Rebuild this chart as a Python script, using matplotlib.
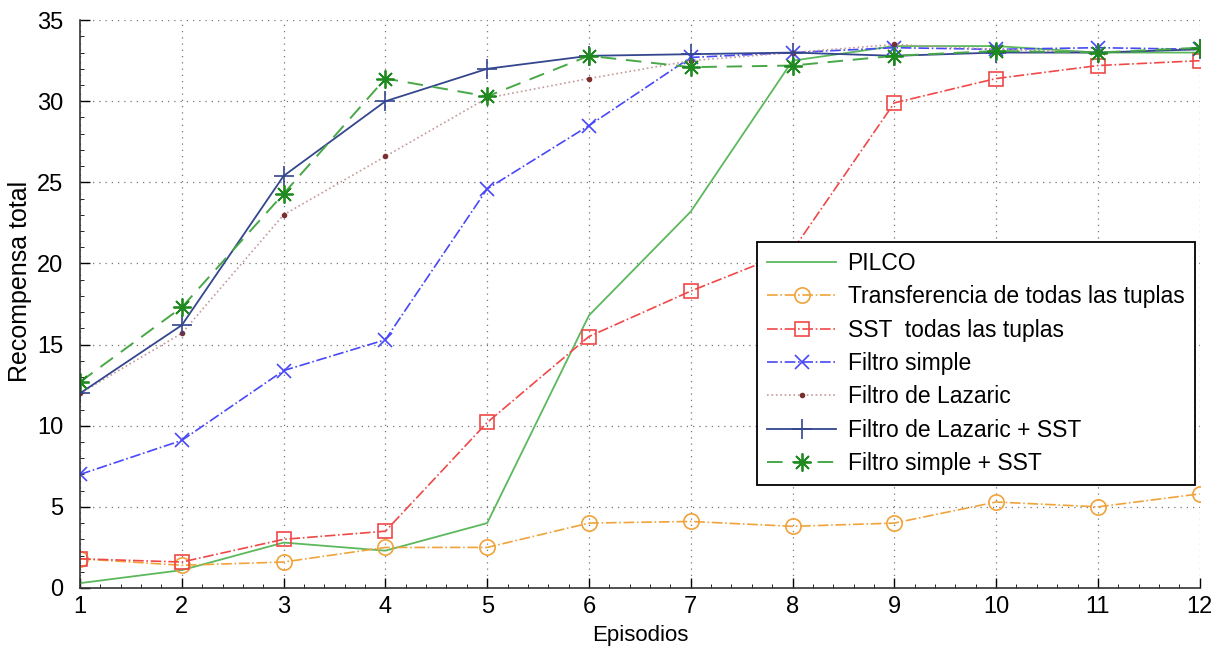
import numpy as np
import matplotlib.pyplot as plt
from matplotlib.ticker import MultipleLocator, AutoMinorLocator

plt.rcParams['font.family'] = ['Liberation Sans', 'DejaVu Sans']

# Datos
episodios = list(range(1, 13))
pilco = [0.3, 1.1, 2.8, 2.3, 4.0, 16.8, 23.2, 32.5, 33.4, 33.4, 33.0, 33.0]
transferencia = [1.8, 1.4, 1.6, 2.5, 2.5, 4.0, 4.1, 3.8, 4.0, 5.3, 5.0, 5.8]
sst_todas = [1.8, 1.6, 3.0, 3.5, 10.2, 15.5, 18.3, 20.8, 29.9, 31.4, 32.2, 32.5]
filtro_simple = [7.0, 9.1, 13.4, 15.3, 24.6, 28.5, 32.7, 33.0, 33.3, 33.2, 33.3, 33.2]
filtro_lazaric = [12.0, 15.7, 23.0, 26.6, 30.2, 31.4, 32.5, 33.0, 33.5, 33.2, 33.0, 33.2]
lazaric_sst = [12.0, 16.2, 25.4, 30.0, 32.0, 32.8, 32.9, 33.0, 32.8, 33.0, 33.0, 33.2]
simple_sst = [12.7, 17.3, 24.3, 31.4, 30.3, 32.8, 32.1, 32.2, 32.8, 33.1, 33.0, 33.3]

fig = plt.figure(figsize=(12.13, 6.49), dpi=100)
ax = fig.add_axes([0.066, 0.094, 0.923, 0.875])

ax.plot(episodios, pilco, '-', color='#5cb85c', lw=1.3, label='PILCO')
ax.plot(episodios, transferencia, '-.', color='#f0a33a', lw=1.2, marker='o', ms=11,
        mfc='none', mew=1.2, label='Transferencia de todas las tuplas')
ax.plot(episodios, sst_todas, '-.', color='#f04848', lw=1.2, marker='s', ms=10,
        mfc='none', mew=1.2, label='SST  todas las tuplas')
ax.plot(episodios, filtro_simple, '-.', color='#4848f8', lw=1.2, marker='x', ms=10,
        mew=1.2, label='Filtro simple')
ax.plot(episodios, filtro_lazaric, ':', color='#c49a9a', lw=1.2, marker='.', ms=6,
        mfc='#7a2f2f', mec='#7a2f2f', label='Filtro de Lazaric')
ax.plot(episodios, lazaric_sst, '-', color='#34468e', lw=1.3, marker='+', ms=14,
        mew=1.2, label='Filtro de Lazaric + SST')
ax.plot(episodios, simple_sst, '--', color='#48a848', lw=1.4, dashes=(8, 5),
        marker=(8, 2, 0), ms=13, mfc='#1f8a1f', mec='#1f8a1f', mew=1.3,
        label='Filtro simple + SST')

ax.set_xlim(1, 12)
ax.set_ylim(0, 35)
ax.xaxis.set_major_locator(MultipleLocator(1))
ax.yaxis.set_major_locator(MultipleLocator(5))
ax.xaxis.set_minor_locator(AutoMinorLocator(5))
ax.yaxis.set_minor_locator(AutoMinorLocator(5))
ax.tick_params(which='major', direction='in', length=7, width=1, labelsize=17, colors='black')
ax.tick_params(which='minor', direction='in', length=3, width=0.6)
ax.tick_params(axis='x', pad=6)
ax.tick_params(axis='y', pad=12)

for s in ['top', 'right']:
    ax.spines[s].set_visible(False)
for s in ['left', 'bottom']:
    ax.spines[s].set_linewidth(1.2)
    ax.spines[s].set_color('#333333')

ax.grid(True, which='major', linestyle=(0, (1, 4)), color='#777777', lw=0.9)

ax.set_xlabel('Episodios', fontsize=16, labelpad=5)
ax.set_ylabel('Recompensa total', fontsize=18)
ax.yaxis.set_label_coords(-0.043, 0.54)

leg = ax.legend(loc='lower right', bbox_to_anchor=(0.9955, 0.181), fontsize=16.5,
                frameon=True, fancybox=False, framealpha=1, edgecolor='black',
                handlelength=3.0, borderpad=0.45, labelspacing=0.45, handletextpad=0.5,
                borderaxespad=0)
leg.get_frame().set_linewidth(1.3)

fig.savefig('out.png', dpi=100)
